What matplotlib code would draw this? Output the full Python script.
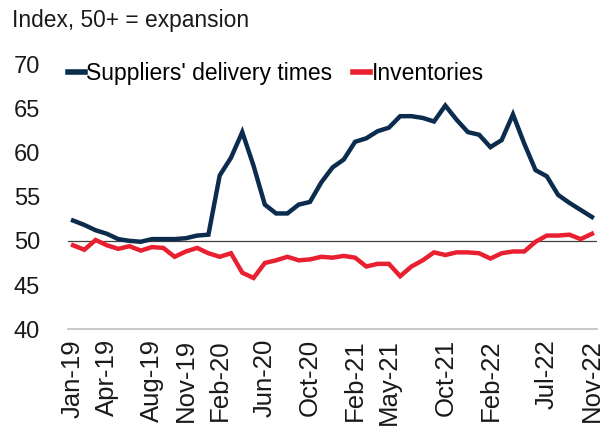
import numpy as np
import pandas as pd
import matplotlib
matplotlib.use("Agg")
import matplotlib.pyplot as plt

plt.rcParams["font.family"] = ["Liberation Sans", "DejaVu Sans"]

# Monthly index values, Jan-19 .. Nov-22
months = pd.date_range("2019-01-01", "2022-11-01", freq="MS")
suppliers = [
    52.3, 51.8, 51.2, 50.8, 50.2, 50.0, 49.9, 50.2, 50.2, 50.2, 50.3, 50.6,
    50.7, 57.4, 59.4, 62.3, 58.5, 54.1, 53.1, 53.1, 54.1, 54.4, 56.6, 58.3,
    59.2, 61.2, 61.6, 62.4, 62.8, 64.1, 64.1, 63.9, 63.5, 65.3, 63.7, 62.3,
    62.0, 60.6, 61.4, 64.3, 61.0, 58.0, 57.3, 55.2, 54.3, 53.5, 52.7,
]
inventories = [
    49.5, 49.0, 50.1, 49.5, 49.1, 49.4, 48.9, 49.3, 49.2, 48.2, 48.8, 49.2,
    48.6, 48.2, 48.6, 46.4, 45.8, 47.5, 47.8, 48.2, 47.8, 47.9, 48.2, 48.1,
    48.3, 48.1, 47.1, 47.4, 47.4, 46.0, 47.1, 47.8, 48.7, 48.4, 48.7, 48.7,
    48.6, 48.0, 48.6, 48.8, 48.8, 49.9, 50.6, 50.6, 50.7, 50.2, 50.8,
]
tick_labels = ["Jan-19", "Apr-19", "Aug-19", "Nov-19", "Feb-20", "Jun-20",
               "Oct-20", "Feb-21", "May-21", "Oct-21", "Feb-22", "Jul-22",
               "Nov-22"]
y_ticks = [40, 45, 50, 55, 60, 65, 70]

labels = [m.strftime("%b-%y") for m in months]
x = np.arange(len(months))
tick_pos = [labels.index(t) for t in tick_labels]

fig = plt.figure(figsize=(6.06, 4.26), dpi=100)
ax = fig.add_axes([68 / 606, 1 - 329.3 / 426, (597 - 68) / 606, (329.3 - 64) / 426])

ax.axhline(50, color="#404040", lw=0.9, zorder=1)
ax.plot(x, suppliers, color="#0C2C4E", lw=3.2, solid_joinstyle="miter",
        label="Suppliers' delivery times", zorder=3)
ax.plot(x, inventories, color="#E8202F", lw=3.2, solid_joinstyle="miter",
        label="Inventories", zorder=2)

ax.set_ylim(40, 70)
ax.set_xlim(-0.45, 46.45)
ax.set_yticks(y_ticks)
ax.set_xticks(tick_pos)
ax.set_xticklabels(tick_labels, rotation=90, fontsize=18.5)
ax.tick_params(axis="both", length=0, colors="#1a1a1a")
ax.tick_params(axis="y", labelsize=17, pad=20)
ax.tick_params(axis="x", pad=7)

for side in ["top", "right", "left"]:
    ax.spines[side].set_visible(False)
ax.spines["bottom"].set_color("#bfbfbf")
ax.spines["bottom"].set_linewidth(1.2)

leg = ax.legend(loc="center left", bbox_to_anchor=(0.0, 0.965), ncol=2,
                frameon=False, fontsize=16.5, handlelength=0.75,
                handletextpad=0.05, columnspacing=0.9, borderaxespad=0,
                borderpad=0)
for line in leg.get_lines():
    line.set_linewidth(4)

fig.text(12 / 606, 1 - 20 / 426, "Index, 50+ = expansion", fontsize=16.4,
         color="#1a1a1a", va="center", ha="left")

fig.savefig("out.png", dpi=100)
